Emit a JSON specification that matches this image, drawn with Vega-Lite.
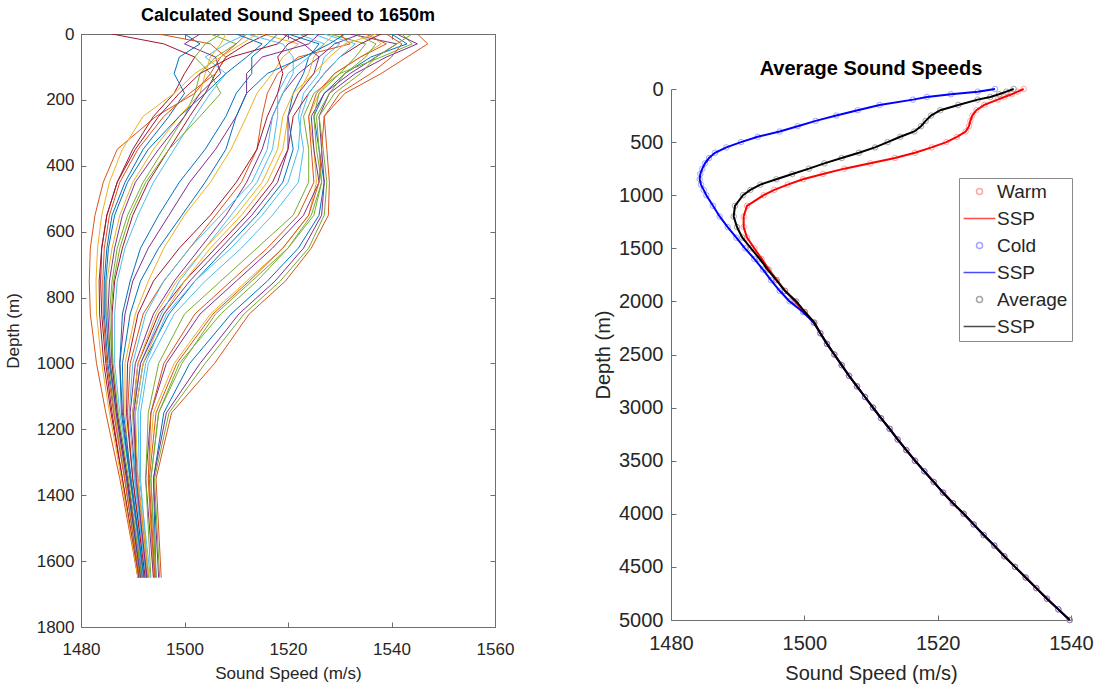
{
  "$schema": "https://vega.github.io/schema/vega-lite/v6.json",
  "padding": {"left": 3, "top": 6, "right": 5, "bottom": 5},
  "background": "white",
  "config": {
    "font": "Liberation Sans",
    "axis": {"labelColor": "#262626", "titleColor": "#262626", "domainColor": "#6e6e6e", "tickColor": "#6e6e6e", "grid": false, "titleFontWeight": "normal", "labelFlush": false, "format": "d"},
    "title": {"color": "#000000", "fontWeight": "bold"}
  },
  "datasets": {
    "prof": [
      {"p":1,"d":0,"v":1540},{"p":1,"d":30,"v":1543},{"p":1,"d":70,"v":1536},{"p":1,"d":120,"v":1531},{"p":1,"d":180,"v":1527},{"p":1,"d":250,"v":1525},{"p":1,"d":350,"v":1526},{"p":1,"d":450,"v":1527},{"p":1,"d":550,"v":1526},{"p":1,"d":650,"v":1522},{"p":1,"d":750,"v":1516},{"p":1,"d":850,"v":1509},{"p":1,"d":1000,"v":1501},{"p":1,"d":1150,"v":1496},{"p":1,"d":1350,"v":1494},{"p":1,"d":1650,"v":1494.5},
      {"p":2,"d":0,"v":1545},{"p":2,"d":30,"v":1547},{"p":2,"d":70,"v":1543},{"p":2,"d":120,"v":1538},{"p":2,"d":180,"v":1531},{"p":2,"d":250,"v":1527},{"p":2,"d":350,"v":1527.5},{"p":2,"d":450,"v":1528},{"p":2,"d":550,"v":1527.8},{"p":2,"d":650,"v":1524.5},{"p":2,"d":750,"v":1519.5},{"p":2,"d":850,"v":1512.5},{"p":2,"d":1000,"v":1505.8},{"p":2,"d":1150,"v":1497.5},{"p":2,"d":1350,"v":1494.5},{"p":2,"d":1650,"v":1495.5},
      {"p":3,"d":0,"v":1536},{"p":3,"d":30,"v":1538},{"p":3,"d":70,"v":1534},{"p":3,"d":120,"v":1529},{"p":3,"d":180,"v":1526},{"p":3,"d":250,"v":1524},{"p":3,"d":350,"v":1525},{"p":3,"d":450,"v":1525.5},{"p":3,"d":550,"v":1524},{"p":3,"d":650,"v":1519},{"p":3,"d":750,"v":1512},{"p":3,"d":850,"v":1505},{"p":3,"d":1000,"v":1498},{"p":3,"d":1150,"v":1494},{"p":3,"d":1350,"v":1493},{"p":3,"d":1650,"v":1494},
      {"p":4,"d":0,"v":1532},{"p":4,"d":30,"v":1541},{"p":4,"d":70,"v":1537},{"p":4,"d":120,"v":1532},{"p":4,"d":180,"v":1527},{"p":4,"d":250,"v":1524.5},{"p":4,"d":350,"v":1525},{"p":4,"d":450,"v":1526},{"p":4,"d":550,"v":1523},{"p":4,"d":650,"v":1517},{"p":4,"d":750,"v":1510},{"p":4,"d":850,"v":1503},{"p":4,"d":1000,"v":1496.5},{"p":4,"d":1150,"v":1493.5},{"p":4,"d":1350,"v":1492.5},{"p":4,"d":1650,"v":1494},
      {"p":5,"d":0,"v":1528},{"p":5,"d":30,"v":1535},{"p":5,"d":70,"v":1533},{"p":5,"d":120,"v":1530},{"p":5,"d":180,"v":1525},{"p":5,"d":250,"v":1523},{"p":5,"d":350,"v":1524},{"p":5,"d":450,"v":1524},{"p":5,"d":550,"v":1521},{"p":5,"d":650,"v":1514},{"p":5,"d":750,"v":1507},{"p":5,"d":850,"v":1500},{"p":5,"d":1000,"v":1495},{"p":5,"d":1150,"v":1493},{"p":5,"d":1350,"v":1492.5},{"p":5,"d":1650,"v":1493.5},
      {"p":6,"d":0,"v":1525},{"p":6,"d":30,"v":1530},{"p":6,"d":70,"v":1527},{"p":6,"d":120,"v":1526},{"p":6,"d":180,"v":1523},{"p":6,"d":250,"v":1522},{"p":6,"d":350,"v":1523},{"p":6,"d":450,"v":1522},{"p":6,"d":550,"v":1517},{"p":6,"d":650,"v":1511},{"p":6,"d":750,"v":1504},{"p":6,"d":850,"v":1498},{"p":6,"d":1000,"v":1493},{"p":6,"d":1150,"v":1491.5},{"p":6,"d":1350,"v":1491.5},{"p":6,"d":1650,"v":1493},
      {"p":7,"d":0,"v":1538},{"p":7,"d":30,"v":1534},{"p":7,"d":70,"v":1530},{"p":7,"d":120,"v":1527},{"p":7,"d":180,"v":1524},{"p":7,"d":250,"v":1521},{"p":7,"d":350,"v":1520},{"p":7,"d":450,"v":1517},{"p":7,"d":550,"v":1512},{"p":7,"d":650,"v":1506},{"p":7,"d":750,"v":1500},{"p":7,"d":850,"v":1495},{"p":7,"d":1000,"v":1491},{"p":7,"d":1150,"v":1490},{"p":7,"d":1350,"v":1491},{"p":7,"d":1650,"v":1493},
      {"p":8,"d":0,"v":1520},{"p":8,"d":30,"v":1526},{"p":8,"d":70,"v":1524},{"p":8,"d":120,"v":1523},{"p":8,"d":180,"v":1521},{"p":8,"d":250,"v":1520},{"p":8,"d":350,"v":1521},{"p":8,"d":450,"v":1519},{"p":8,"d":550,"v":1514},{"p":8,"d":650,"v":1508},{"p":8,"d":750,"v":1502},{"p":8,"d":850,"v":1497},{"p":8,"d":1000,"v":1492},{"p":8,"d":1150,"v":1490.5},{"p":8,"d":1350,"v":1490.5},{"p":8,"d":1650,"v":1492.5},
      {"p":9,"d":0,"v":1530},{"p":9,"d":30,"v":1532},{"p":9,"d":70,"v":1522},{"p":9,"d":120,"v":1518},{"p":9,"d":180,"v":1516},{"p":9,"d":250,"v":1515},{"p":9,"d":350,"v":1514},{"p":9,"d":450,"v":1511},{"p":9,"d":550,"v":1506},{"p":9,"d":650,"v":1501},{"p":9,"d":750,"v":1496},{"p":9,"d":850,"v":1492},{"p":9,"d":1000,"v":1489.5},{"p":9,"d":1150,"v":1489},{"p":9,"d":1350,"v":1490},{"p":9,"d":1650,"v":1492.5},
      {"p":10,"d":0,"v":1515},{"p":10,"d":30,"v":1522},{"p":10,"d":70,"v":1519},{"p":10,"d":120,"v":1517},{"p":10,"d":180,"v":1514},{"p":10,"d":250,"v":1512},{"p":10,"d":350,"v":1509},{"p":10,"d":450,"v":1505},{"p":10,"d":550,"v":1500},{"p":10,"d":650,"v":1496},{"p":10,"d":750,"v":1493},{"p":10,"d":850,"v":1490.5},{"p":10,"d":1000,"v":1488.5},{"p":10,"d":1150,"v":1488.5},{"p":10,"d":1350,"v":1489.5},{"p":10,"d":1650,"v":1492},
      {"p":11,"d":0,"v":1526},{"p":11,"d":30,"v":1524},{"p":11,"d":70,"v":1515},{"p":11,"d":120,"v":1512},{"p":11,"d":180,"v":1512},{"p":11,"d":250,"v":1510},{"p":11,"d":350,"v":1506},{"p":11,"d":450,"v":1501},{"p":11,"d":550,"v":1497},{"p":11,"d":650,"v":1493},{"p":11,"d":750,"v":1490},{"p":11,"d":850,"v":1488.5},{"p":11,"d":1000,"v":1487.5},{"p":11,"d":1150,"v":1488},{"p":11,"d":1350,"v":1489.5},{"p":11,"d":1650,"v":1492},
      {"p":12,"d":0,"v":1505},{"p":12,"d":30,"v":1510},{"p":12,"d":70,"v":1506},{"p":12,"d":120,"v":1503},{"p":12,"d":180,"v":1502},{"p":12,"d":250,"v":1500},{"p":12,"d":350,"v":1496},{"p":12,"d":450,"v":1492},{"p":12,"d":550,"v":1489},{"p":12,"d":650,"v":1487},{"p":12,"d":750,"v":1486},{"p":12,"d":850,"v":1485.5},{"p":12,"d":1000,"v":1486},{"p":12,"d":1150,"v":1487},{"p":12,"d":1350,"v":1489},{"p":12,"d":1650,"v":1491.5},
      {"p":13,"d":0,"v":1512},{"p":13,"d":30,"v":1508},{"p":13,"d":70,"v":1504},{"p":13,"d":120,"v":1508},{"p":13,"d":180,"v":1505},{"p":13,"d":250,"v":1502},{"p":13,"d":350,"v":1498},{"p":13,"d":450,"v":1494},{"p":13,"d":550,"v":1491},{"p":13,"d":650,"v":1488.5},{"p":13,"d":750,"v":1487},{"p":13,"d":850,"v":1486.5},{"p":13,"d":1000,"v":1486.5},{"p":13,"d":1150,"v":1487.5},{"p":13,"d":1350,"v":1489.5},{"p":13,"d":1650,"v":1492},
      {"p":14,"d":0,"v":1486},{"p":14,"d":30,"v":1496},{"p":14,"d":70,"v":1502},{"p":14,"d":120,"v":1500},{"p":14,"d":180,"v":1498},{"p":14,"d":250,"v":1494},{"p":14,"d":350,"v":1490},{"p":14,"d":450,"v":1487},{"p":14,"d":550,"v":1485},{"p":14,"d":650,"v":1484},{"p":14,"d":750,"v":1483.8},{"p":14,"d":850,"v":1484},{"p":14,"d":1000,"v":1484.8},{"p":14,"d":1150,"v":1486},{"p":14,"d":1350,"v":1488},{"p":14,"d":1650,"v":1491},
      {"p":15,"d":0,"v":1500},{"p":15,"d":30,"v":1503},{"p":15,"d":70,"v":1499},{"p":15,"d":120,"v":1498},{"p":15,"d":180,"v":1500},{"p":15,"d":250,"v":1497},{"p":15,"d":350,"v":1492},{"p":15,"d":450,"v":1488.5},{"p":15,"d":550,"v":1486},{"p":15,"d":650,"v":1485},{"p":15,"d":750,"v":1484.5},{"p":15,"d":850,"v":1484.5},{"p":15,"d":1000,"v":1485.2},{"p":15,"d":1150,"v":1486.5},{"p":15,"d":1350,"v":1488.5},{"p":15,"d":1650,"v":1491.2},
      {"p":16,"d":0,"v":1512},{"p":16,"d":30,"v":1510},{"p":16,"d":70,"v":1507},{"p":16,"d":120,"v":1505},{"p":16,"d":180,"v":1502},{"p":16,"d":250,"v":1494.5},{"p":16,"d":350,"v":1487},{"p":16,"d":450,"v":1484.3},{"p":16,"d":550,"v":1482.7},{"p":16,"d":650,"v":1481.8},{"p":16,"d":750,"v":1481.6},{"p":16,"d":850,"v":1481.8},{"p":16,"d":1000,"v":1483},{"p":16,"d":1150,"v":1484.8},{"p":16,"d":1350,"v":1487.5},{"p":16,"d":1650,"v":1491},
      {"p":17,"d":0,"v":1508},{"p":17,"d":30,"v":1507},{"p":17,"d":70,"v":1505},{"p":17,"d":120,"v":1504},{"p":17,"d":180,"v":1503},{"p":17,"d":250,"v":1499},{"p":17,"d":350,"v":1494},{"p":17,"d":450,"v":1490},{"p":17,"d":550,"v":1487.5},{"p":17,"d":650,"v":1486},{"p":17,"d":750,"v":1485},{"p":17,"d":850,"v":1485},{"p":17,"d":1000,"v":1485.5},{"p":17,"d":1150,"v":1486.5},{"p":17,"d":1350,"v":1488.5},{"p":17,"d":1650,"v":1491.5},
      {"p":18,"d":0,"v":1534},{"p":18,"d":30,"v":1529},{"p":18,"d":70,"v":1526},{"p":18,"d":120,"v":1522},{"p":18,"d":180,"v":1519},{"p":18,"d":250,"v":1517},{"p":18,"d":350,"v":1515},{"p":18,"d":450,"v":1512},{"p":18,"d":550,"v":1508},{"p":18,"d":650,"v":1503},{"p":18,"d":750,"v":1498},{"p":18,"d":850,"v":1494},{"p":18,"d":1000,"v":1490.5},{"p":18,"d":1150,"v":1489.5},{"p":18,"d":1350,"v":1490.5},{"p":18,"d":1650,"v":1492.8},
      {"p":19,"d":0,"v":1542},{"p":19,"d":30,"v":1544},{"p":19,"d":70,"v":1538},{"p":19,"d":120,"v":1530},{"p":19,"d":180,"v":1526},{"p":19,"d":250,"v":1525},{"p":19,"d":350,"v":1525.5},{"p":19,"d":450,"v":1526.5},{"p":19,"d":550,"v":1525},{"p":19,"d":650,"v":1520},{"p":19,"d":750,"v":1514},{"p":19,"d":850,"v":1507},{"p":19,"d":1000,"v":1499},{"p":19,"d":1150,"v":1495},{"p":19,"d":1350,"v":1493.5},{"p":19,"d":1650,"v":1494.5},
      {"p":20,"d":0,"v":1522},{"p":20,"d":30,"v":1527},{"p":20,"d":70,"v":1524},{"p":20,"d":120,"v":1520},{"p":20,"d":180,"v":1518},{"p":20,"d":250,"v":1518},{"p":20,"d":350,"v":1517},{"p":20,"d":450,"v":1514},{"p":20,"d":550,"v":1509},{"p":20,"d":650,"v":1504},{"p":20,"d":750,"v":1499},{"p":20,"d":850,"v":1495.5},{"p":20,"d":1000,"v":1491.5},{"p":20,"d":1150,"v":1490},{"p":20,"d":1350,"v":1490.5},{"p":20,"d":1650,"v":1492.5},
      {"p":21,"d":0,"v":1516},{"p":21,"d":30,"v":1512},{"p":21,"d":70,"v":1508},{"p":21,"d":120,"v":1506},{"p":21,"d":180,"v":1504},{"p":21,"d":250,"v":1501},{"p":21,"d":350,"v":1497},{"p":21,"d":450,"v":1493},{"p":21,"d":550,"v":1490},{"p":21,"d":650,"v":1488},{"p":21,"d":750,"v":1486.5},{"p":21,"d":850,"v":1486},{"p":21,"d":1000,"v":1486},{"p":21,"d":1150,"v":1487},{"p":21,"d":1350,"v":1489},{"p":21,"d":1650,"v":1491.8},
      {"p":22,"d":0,"v":1518},{"p":22,"d":30,"v":1516},{"p":22,"d":70,"v":1513},{"p":22,"d":120,"v":1513},{"p":22,"d":180,"v":1510},{"p":22,"d":250,"v":1508},{"p":22,"d":350,"v":1504},{"p":22,"d":450,"v":1499},{"p":22,"d":550,"v":1495},{"p":22,"d":650,"v":1491.5},{"p":22,"d":750,"v":1489.5},{"p":22,"d":850,"v":1488},{"p":22,"d":1000,"v":1487.5},{"p":22,"d":1150,"v":1487.8},{"p":22,"d":1350,"v":1489.5},{"p":22,"d":1650,"v":1492.2},
      {"p":23,"d":0,"v":1535},{"p":23,"d":30,"v":1539},{"p":23,"d":70,"v":1534},{"p":23,"d":120,"v":1529},{"p":23,"d":180,"v":1525.5},{"p":23,"d":250,"v":1524},{"p":23,"d":350,"v":1524.5},{"p":23,"d":450,"v":1525},{"p":23,"d":550,"v":1522},{"p":23,"d":650,"v":1516},{"p":23,"d":750,"v":1509},{"p":23,"d":850,"v":1502},{"p":23,"d":1000,"v":1496},{"p":23,"d":1150,"v":1493.5},{"p":23,"d":1350,"v":1493},{"p":23,"d":1650,"v":1494.2},
      {"p":24,"d":0,"v":1529},{"p":24,"d":30,"v":1527},{"p":24,"d":70,"v":1525},{"p":24,"d":120,"v":1524},{"p":24,"d":180,"v":1522},{"p":24,"d":250,"v":1520},{"p":24,"d":350,"v":1519},{"p":24,"d":450,"v":1516},{"p":24,"d":550,"v":1511},{"p":24,"d":650,"v":1505},{"p":24,"d":750,"v":1500},{"p":24,"d":850,"v":1496},{"p":24,"d":1000,"v":1492},{"p":24,"d":1150,"v":1490.5},{"p":24,"d":1350,"v":1491},{"p":24,"d":1650,"v":1493.2},
      {"p":25,"d":0,"v":1541},{"p":25,"d":30,"v":1545},{"p":25,"d":70,"v":1539},{"p":25,"d":120,"v":1533},{"p":25,"d":180,"v":1528},{"p":25,"d":250,"v":1526},{"p":25,"d":350,"v":1526.5},{"p":25,"d":450,"v":1527},{"p":25,"d":550,"v":1526.5},{"p":25,"d":650,"v":1523},{"p":25,"d":750,"v":1517.5},{"p":25,"d":850,"v":1510.5},{"p":25,"d":1000,"v":1503},{"p":25,"d":1150,"v":1496.5},{"p":25,"d":1350,"v":1494},{"p":25,"d":1650,"v":1495},
      {"p":26,"d":0,"v":1533},{"p":26,"d":30,"v":1537},{"p":26,"d":70,"v":1535},{"p":26,"d":120,"v":1531},{"p":26,"d":180,"v":1528},{"p":26,"d":250,"v":1525.5},{"p":26,"d":350,"v":1526},{"p":26,"d":450,"v":1526.5},{"p":26,"d":550,"v":1524.5},{"p":26,"d":650,"v":1520},{"p":26,"d":750,"v":1513},{"p":26,"d":850,"v":1506},{"p":26,"d":1000,"v":1499.5},{"p":26,"d":1150,"v":1495},{"p":26,"d":1350,"v":1493.5},{"p":26,"d":1650,"v":1494.5},
      {"p":27,"d":0,"v":1527},{"p":27,"d":30,"v":1533},{"p":27,"d":70,"v":1530},{"p":27,"d":120,"v":1527},{"p":27,"d":180,"v":1524},{"p":27,"d":250,"v":1522.5},{"p":27,"d":350,"v":1522},{"p":27,"d":450,"v":1520},{"p":27,"d":550,"v":1515},{"p":27,"d":650,"v":1509},{"p":27,"d":750,"v":1502},{"p":27,"d":850,"v":1496.5},{"p":27,"d":1000,"v":1492.5},{"p":27,"d":1150,"v":1491},{"p":27,"d":1350,"v":1491.3},{"p":27,"d":1650,"v":1493.4},
      {"p":28,"d":0,"v":1524},{"p":28,"d":30,"v":1520},{"p":28,"d":70,"v":1518},{"p":28,"d":120,"v":1519},{"p":28,"d":180,"v":1518},{"p":28,"d":250,"v":1516},{"p":28,"d":350,"v":1514},{"p":28,"d":450,"v":1510},{"p":28,"d":550,"v":1505},{"p":28,"d":650,"v":1499},{"p":28,"d":750,"v":1494},{"p":28,"d":850,"v":1491},{"p":28,"d":1000,"v":1489},{"p":28,"d":1150,"v":1488.8},{"p":28,"d":1350,"v":1490},{"p":28,"d":1650,"v":1492.4},
      {"p":29,"d":0,"v":1510},{"p":29,"d":30,"v":1515},{"p":29,"d":70,"v":1512},{"p":29,"d":120,"v":1508},{"p":29,"d":180,"v":1504},{"p":29,"d":250,"v":1499},{"p":29,"d":350,"v":1493},{"p":29,"d":450,"v":1489},{"p":29,"d":550,"v":1486.5},{"p":29,"d":650,"v":1485.3},{"p":29,"d":750,"v":1484.8},{"p":29,"d":850,"v":1484.8},{"p":29,"d":1000,"v":1485.5},{"p":29,"d":1150,"v":1486.8},{"p":29,"d":1350,"v":1488.8},{"p":29,"d":1650,"v":1491.5},
      {"p":30,"d":0,"v":1495},{"p":30,"d":30,"v":1505},{"p":30,"d":70,"v":1508},{"p":30,"d":120,"v":1506},{"p":30,"d":180,"v":1501},{"p":30,"d":250,"v":1496},{"p":30,"d":350,"v":1491},{"p":30,"d":450,"v":1487.5},{"p":30,"d":550,"v":1485.5},{"p":30,"d":650,"v":1484.5},{"p":30,"d":750,"v":1484.2},{"p":30,"d":850,"v":1484.3},{"p":30,"d":1000,"v":1485},{"p":30,"d":1150,"v":1486.3},{"p":30,"d":1350,"v":1488.4},{"p":30,"d":1650,"v":1491.3},
      {"p":31,"d":0,"v":1537},{"p":31,"d":30,"v":1531},{"p":31,"d":70,"v":1528},{"p":31,"d":120,"v":1525},{"p":31,"d":180,"v":1521},{"p":31,"d":250,"v":1519},{"p":31,"d":350,"v":1518},{"p":31,"d":450,"v":1515},{"p":31,"d":550,"v":1510},{"p":31,"d":650,"v":1504},{"p":31,"d":750,"v":1498.5},{"p":31,"d":850,"v":1494.5},{"p":31,"d":1000,"v":1491},{"p":31,"d":1150,"v":1490},{"p":31,"d":1350,"v":1490.8},{"p":31,"d":1650,"v":1493},
      {"p":32,"d":0,"v":1503},{"p":32,"d":30,"v":1500},{"p":32,"d":70,"v":1506},{"p":32,"d":120,"v":1507},{"p":32,"d":180,"v":1503},{"p":32,"d":250,"v":1500},{"p":32,"d":350,"v":1495},{"p":32,"d":450,"v":1490.5},{"p":32,"d":550,"v":1488},{"p":32,"d":650,"v":1486.5},{"p":32,"d":750,"v":1485.5},{"p":32,"d":850,"v":1485.2},{"p":32,"d":1000,"v":1485.7},{"p":32,"d":1150,"v":1486.8},{"p":32,"d":1350,"v":1488.8},{"p":32,"d":1650,"v":1491.6},
      {"p":33,"d":0,"v":1544},{"p":33,"d":30,"v":1541},{"p":33,"d":70,"v":1537},{"p":33,"d":120,"v":1534},{"p":33,"d":180,"v":1529},{"p":33,"d":250,"v":1526},{"p":33,"d":350,"v":1526.8},{"p":33,"d":450,"v":1527.5},{"p":33,"d":550,"v":1527},{"p":33,"d":650,"v":1524},{"p":33,"d":750,"v":1518.5},{"p":33,"d":850,"v":1511.5},{"p":33,"d":1000,"v":1504},{"p":33,"d":1150,"v":1497},{"p":33,"d":1350,"v":1494.2},{"p":33,"d":1650,"v":1495.2},
      {"p":34,"d":0,"v":1512},{"p":34,"d":30,"v":1519},{"p":34,"d":70,"v":1521},{"p":34,"d":120,"v":1521},{"p":34,"d":180,"v":1519},{"p":34,"d":250,"v":1517},{"p":34,"d":350,"v":1516},{"p":34,"d":450,"v":1513},{"p":34,"d":550,"v":1507},{"p":34,"d":650,"v":1501},{"p":34,"d":750,"v":1496},{"p":34,"d":850,"v":1492.5},{"p":34,"d":1000,"v":1490},{"p":34,"d":1150,"v":1489.3},{"p":34,"d":1350,"v":1490.3},{"p":34,"d":1650,"v":1492.6},
      {"p":35,"d":0,"v":1520},{"p":35,"d":30,"v":1518},{"p":35,"d":70,"v":1509},{"p":35,"d":120,"v":1503},{"p":35,"d":180,"v":1499},{"p":35,"d":250,"v":1495},{"p":35,"d":350,"v":1490.5},{"p":35,"d":450,"v":1487},{"p":35,"d":550,"v":1485},{"p":35,"d":650,"v":1484},{"p":35,"d":750,"v":1483.5},{"p":35,"d":850,"v":1483.6},{"p":35,"d":1000,"v":1484.4},{"p":35,"d":1150,"v":1485.8},{"p":35,"d":1350,"v":1488},{"p":35,"d":1650,"v":1491.1},
      {"p":36,"d":0,"v":1531},{"p":36,"d":30,"v":1528},{"p":36,"d":70,"v":1523},{"p":36,"d":120,"v":1516},{"p":36,"d":180,"v":1512},{"p":36,"d":250,"v":1510},{"p":36,"d":350,"v":1508},{"p":36,"d":450,"v":1504},{"p":36,"d":550,"v":1499.5},{"p":36,"d":650,"v":1495},{"p":36,"d":750,"v":1491.5},{"p":36,"d":850,"v":1489.5},{"p":36,"d":1000,"v":1488},{"p":36,"d":1150,"v":1488.2},{"p":36,"d":1350,"v":1489.7},{"p":36,"d":1650,"v":1492.2},
      {"p":37,"d":0,"v":1539},{"p":37,"d":30,"v":1542},{"p":37,"d":70,"v":1540},{"p":37,"d":120,"v":1536},{"p":37,"d":180,"v":1530},{"p":37,"d":250,"v":1527},{"p":37,"d":350,"v":1526.5},{"p":37,"d":450,"v":1526},{"p":37,"d":550,"v":1524},{"p":37,"d":650,"v":1519},{"p":37,"d":750,"v":1512.5},{"p":37,"d":850,"v":1505.5},{"p":37,"d":1000,"v":1498.5},{"p":37,"d":1150,"v":1494.5},{"p":37,"d":1350,"v":1493.2},{"p":37,"d":1650,"v":1494.3},
      {"p":38,"d":0,"v":1514},{"p":38,"d":30,"v":1511},{"p":38,"d":70,"v":1507},{"p":38,"d":120,"v":1502},{"p":38,"d":180,"v":1498},{"p":38,"d":250,"v":1492},{"p":38,"d":350,"v":1488},{"p":38,"d":450,"v":1485.5},{"p":38,"d":550,"v":1484},{"p":38,"d":650,"v":1483.2},{"p":38,"d":750,"v":1482.9},{"p":38,"d":850,"v":1483},{"p":38,"d":1000,"v":1484},{"p":38,"d":1150,"v":1485.5},{"p":38,"d":1350,"v":1487.8},{"p":38,"d":1650,"v":1491},
      {"p":39,"d":0,"v":1519},{"p":39,"d":30,"v":1523},{"p":39,"d":70,"v":1526},{"p":39,"d":120,"v":1525},{"p":39,"d":180,"v":1522},{"p":39,"d":250,"v":1520},{"p":39,"d":350,"v":1520},{"p":39,"d":450,"v":1518},{"p":39,"d":550,"v":1513},{"p":39,"d":650,"v":1507},{"p":39,"d":750,"v":1501},{"p":39,"d":850,"v":1496},{"p":39,"d":1000,"v":1491.5},{"p":39,"d":1150,"v":1490.2},{"p":39,"d":1350,"v":1490.7},{"p":39,"d":1650,"v":1492.7},
      {"p":40,"d":0,"v":1507},{"p":40,"d":30,"v":1504},{"p":40,"d":70,"v":1502},{"p":40,"d":120,"v":1505},{"p":40,"d":180,"v":1507},{"p":40,"d":250,"v":1503},{"p":40,"d":350,"v":1497},{"p":40,"d":450,"v":1492.5},{"p":40,"d":550,"v":1489.5},{"p":40,"d":650,"v":1487.5},{"p":40,"d":750,"v":1486.3},{"p":40,"d":850,"v":1485.8},{"p":40,"d":1000,"v":1486.2},{"p":40,"d":1150,"v":1487.2},{"p":40,"d":1350,"v":1489.2},{"p":40,"d":1650,"v":1491.7}
    ],
    "avg": [
      {"s":"Warm","d":0,"v":1532.9},{"s":"Warm","d":25,"v":1532},{"s":"Warm","d":50,"v":1531.1},{"s":"Warm","d":75,"v":1530},{"s":"Warm","d":100,"v":1529},{"s":"Warm","d":150,"v":1527},{"s":"Warm","d":200,"v":1525.8},{"s":"Warm","d":250,"v":1525.2},{"s":"Warm","d":300,"v":1524.9},{"s":"Warm","d":350,"v":1524.7},{"s":"Warm","d":400,"v":1524.2},{"s":"Warm","d":450,"v":1522.9},{"s":"Warm","d":500,"v":1521.3},{"s":"Warm","d":550,"v":1519.1},{"s":"Warm","d":600,"v":1516.6},{"s":"Warm","d":650,"v":1513.6},{"s":"Warm","d":700,"v":1509.9},{"s":"Warm","d":750,"v":1506},{"s":"Warm","d":800,"v":1502.8},{"s":"Warm","d":850,"v":1499.8},{"s":"Warm","d":900,"v":1497.5},{"s":"Warm","d":950,"v":1495.5},{"s":"Warm","d":1000,"v":1493.9},{"s":"Warm","d":1100,"v":1491.4},{"s":"Warm","d":1200,"v":1490.9},{"s":"Warm","d":1300,"v":1490.9},{"s":"Warm","d":1400,"v":1491.4},{"s":"Warm","d":1500,"v":1492.5},{"s":"Warm","d":1600,"v":1493.6},{"s":"Warm","d":1700,"v":1494.7},{"s":"Warm","d":1800,"v":1495.9},{"s":"Warm","d":1900,"v":1497.1},{"s":"Warm","d":2000,"v":1498.6},{"s":"Warm","d":2100,"v":1500},{"s":"Warm","d":2200,"v":1501.5},
      {"s":"Warm","d":2300,"v":1502.4},{"s":"Warm","d":2400,"v":1503.4},{"s":"Warm","d":2500,"v":1504.5},{"s":"Warm","d":2600,"v":1505.6},{"s":"Warm","d":2700,"v":1506.7},{"s":"Warm","d":2800,"v":1507.9},{"s":"Warm","d":2900,"v":1509.1},{"s":"Warm","d":3000,"v":1510.3},{"s":"Warm","d":3100,"v":1511.5},{"s":"Warm","d":3200,"v":1512.8},{"s":"Warm","d":3300,"v":1514},{"s":"Warm","d":3400,"v":1515.3},{"s":"Warm","d":3500,"v":1516.6},{"s":"Warm","d":3600,"v":1518},{"s":"Warm","d":3700,"v":1519.4},{"s":"Warm","d":3800,"v":1520.8},{"s":"Warm","d":3900,"v":1522.3},{"s":"Warm","d":4000,"v":1523.9},{"s":"Warm","d":4100,"v":1525.4},{"s":"Warm","d":4200,"v":1526.9},{"s":"Warm","d":4300,"v":1528.5},{"s":"Warm","d":4400,"v":1530},{"s":"Warm","d":4500,"v":1531.6},{"s":"Warm","d":4600,"v":1533.2},{"s":"Warm","d":4700,"v":1534.8},{"s":"Warm","d":4800,"v":1536.4},{"s":"Warm","d":4900,"v":1538.1},{"s":"Warm","d":5000,"v":1539.8},
      {"s":"Cold","d":0,"v":1528.6},{"s":"Cold","d":25,"v":1526},{"s":"Cold","d":50,"v":1522},{"s":"Cold","d":75,"v":1518.4},{"s":"Cold","d":100,"v":1516.3},{"s":"Cold","d":150,"v":1511.3},{"s":"Cold","d":200,"v":1508},{"s":"Cold","d":250,"v":1504.8},{"s":"Cold","d":300,"v":1501.7},{"s":"Cold","d":350,"v":1499},{"s":"Cold","d":400,"v":1496.3},{"s":"Cold","d":450,"v":1493},{"s":"Cold","d":500,"v":1490.5},{"s":"Cold","d":550,"v":1488.3},{"s":"Cold","d":600,"v":1486.6},{"s":"Cold","d":650,"v":1485.7},{"s":"Cold","d":700,"v":1485.1},{"s":"Cold","d":750,"v":1484.7},{"s":"Cold","d":800,"v":1484.4},{"s":"Cold","d":850,"v":1484.3},{"s":"Cold","d":900,"v":1484.5},{"s":"Cold","d":950,"v":1484.9},{"s":"Cold","d":1000,"v":1485.3},{"s":"Cold","d":1100,"v":1486.3},{"s":"Cold","d":1200,"v":1487.3},{"s":"Cold","d":1300,"v":1488.5},{"s":"Cold","d":1400,"v":1489.8},{"s":"Cold","d":1500,"v":1491.1},{"s":"Cold","d":1600,"v":1492.5},{"s":"Cold","d":1700,"v":1493.8},{"s":"Cold","d":1800,"v":1495},{"s":"Cold","d":1900,"v":1496.3},{"s":"Cold","d":2000,"v":1497.8},{"s":"Cold","d":2100,"v":1499.8},{"s":"Cold","d":2200,"v":1501.4},
      {"s":"Cold","d":2300,"v":1502.4},{"s":"Cold","d":2400,"v":1503.4},{"s":"Cold","d":2500,"v":1504.5},{"s":"Cold","d":2600,"v":1505.6},{"s":"Cold","d":2700,"v":1506.7},{"s":"Cold","d":2800,"v":1507.9},{"s":"Cold","d":2900,"v":1509.1},{"s":"Cold","d":3000,"v":1510.3},{"s":"Cold","d":3100,"v":1511.5},{"s":"Cold","d":3200,"v":1512.8},{"s":"Cold","d":3300,"v":1514},{"s":"Cold","d":3400,"v":1515.3},{"s":"Cold","d":3500,"v":1516.6},{"s":"Cold","d":3600,"v":1518},{"s":"Cold","d":3700,"v":1519.4},{"s":"Cold","d":3800,"v":1520.8},{"s":"Cold","d":3900,"v":1522.3},{"s":"Cold","d":4000,"v":1523.9},{"s":"Cold","d":4100,"v":1525.4},{"s":"Cold","d":4200,"v":1526.9},{"s":"Cold","d":4300,"v":1528.5},{"s":"Cold","d":4400,"v":1530},{"s":"Cold","d":4500,"v":1531.6},{"s":"Cold","d":4600,"v":1533.2},{"s":"Cold","d":4700,"v":1534.8},{"s":"Cold","d":4800,"v":1536.4},{"s":"Cold","d":4900,"v":1538.1},{"s":"Cold","d":5000,"v":1539.8},
      {"s":"Average","d":0,"v":1531.4},{"s":"Average","d":25,"v":1530.3},{"s":"Average","d":50,"v":1529.2},{"s":"Average","d":75,"v":1527.9},{"s":"Average","d":100,"v":1526},{"s":"Average","d":150,"v":1523.1},{"s":"Average","d":200,"v":1520.4},{"s":"Average","d":250,"v":1519},{"s":"Average","d":300,"v":1518.2},{"s":"Average","d":350,"v":1517.5},{"s":"Average","d":400,"v":1516.5},{"s":"Average","d":450,"v":1514.4},{"s":"Average","d":500,"v":1512.5},{"s":"Average","d":550,"v":1510.6},{"s":"Average","d":600,"v":1508.2},{"s":"Average","d":650,"v":1505.6},{"s":"Average","d":700,"v":1503},{"s":"Average","d":750,"v":1500.7},{"s":"Average","d":800,"v":1498.2},{"s":"Average","d":850,"v":1495.8},{"s":"Average","d":900,"v":1493.4},{"s":"Average","d":950,"v":1491.9},{"s":"Average","d":1000,"v":1490.8},{"s":"Average","d":1100,"v":1489.6},{"s":"Average","d":1200,"v":1489.4},{"s":"Average","d":1300,"v":1489.9},{"s":"Average","d":1400,"v":1490.7},{"s":"Average","d":1500,"v":1492},{"s":"Average","d":1600,"v":1493.3},{"s":"Average","d":1700,"v":1494.5},{"s":"Average","d":1800,"v":1495.8},{"s":"Average","d":1900,"v":1497.1},{"s":"Average","d":2000,"v":1498.8},{"s":"Average","d":2100,"v":1500.1},{"s":"Average","d":2200,"v":1501.5},
      {"s":"Average","d":2300,"v":1502.4},{"s":"Average","d":2400,"v":1503.4},{"s":"Average","d":2500,"v":1504.5},{"s":"Average","d":2600,"v":1505.6},{"s":"Average","d":2700,"v":1506.7},{"s":"Average","d":2800,"v":1507.9},{"s":"Average","d":2900,"v":1509.1},{"s":"Average","d":3000,"v":1510.3},{"s":"Average","d":3100,"v":1511.5},{"s":"Average","d":3200,"v":1512.8},{"s":"Average","d":3300,"v":1514},{"s":"Average","d":3400,"v":1515.3},{"s":"Average","d":3500,"v":1516.6},{"s":"Average","d":3600,"v":1518},{"s":"Average","d":3700,"v":1519.4},{"s":"Average","d":3800,"v":1520.8},{"s":"Average","d":3900,"v":1522.3},{"s":"Average","d":4000,"v":1523.9},{"s":"Average","d":4100,"v":1525.4},{"s":"Average","d":4200,"v":1526.9},{"s":"Average","d":4300,"v":1528.5},{"s":"Average","d":4400,"v":1530},{"s":"Average","d":4500,"v":1531.6},{"s":"Average","d":4600,"v":1533.2},{"s":"Average","d":4700,"v":1534.8},{"s":"Average","d":4800,"v":1536.4},{"s":"Average","d":4900,"v":1538.1},{"s":"Average","d":5000,"v":1539.8}
    ]
  },
  "hconcat": [
    {
      "width": 414,
      "height": 593,
      "title": {"text": "Calculated Sound Speed to 1650m", "fontSize": 18, "offset": 0},
      "data": {"name": "prof"},
      "view": {"stroke": "#6e6e6e"},
      "layer": [
        {
          "mark": {"type": "line", "strokeWidth": 1, "clip": true},
          "encoding": {
            "x": {"field": "v", "type": "quantitative", "scale": {"domain": [1480, 1560], "nice": false, "zero": false},
                  "axis": {"values": [1480, 1500, 1520, 1540, 1560], "title": "Sound Speed (m/s)", "labelFontSize": 17, "titleFontSize": 17, "tickSize": -5, "labelPadding": 19, "titlePadding": 8, "domain": false}},
            "y": {"field": "d", "type": "quantitative", "scale": {"domain": [0, 1800], "reverse": true, "nice": false, "zero": false},
                  "axis": {"values": [0, 200, 400, 600, 800, 1000, 1200, 1400, 1600, 1800], "title": "Depth (m)", "labelFontSize": 17, "titleFontSize": 17, "tickSize": -5, "labelPadding": 12, "titlePadding": 14, "domain": false}},
            "color": {"field": "p", "type": "nominal", "scale": {"range": ["#0072BD", "#D95319", "#EDB120", "#7E2F8E", "#77AC30", "#4DBEEE", "#A2142F"]}, "legend": null},
            "order": {"field": "d", "type": "quantitative"}
          }
        },
        {
          "mark": {"type": "line", "opacity": 0},
          "encoding": {
            "x": {"field": "v", "type": "quantitative", "axis": {"orient": "top", "values": [1480, 1500, 1520, 1540, 1560], "labels": false, "title": null, "tickSize": -5, "domain": false}},
            "y": {"field": "d", "type": "quantitative", "axis": {"orient": "right", "values": [0, 200, 400, 600, 800, 1000, 1200, 1400, 1600, 1800], "labels": false, "title": null, "tickSize": -5, "domain": false}},
            "detail": {"field": "p", "type": "nominal"},
            "order": {"field": "d", "type": "quantitative"}
          }
        }
      ],
      "resolve": {"axis": {"x": "independent", "y": "independent"}}
    },
    {
      "width": 400,
      "height": 586,
      "title": {"text": "Average Sound Speeds", "fontSize": 20, "offset": -45, "frame": "group"},
      "data": {"name": "avg"},
      "view": {"stroke": null},
      "encoding": {
        "x": {"field": "v", "type": "quantitative", "scale": {"domain": [1480, 1540], "nice": false, "zero": false},
              "axis": {"values": [1480, 1500, 1520, 1540], "title": "Sound Speed (m/s)", "labelFontSize": 20, "titleFontSize": 20, "tickSize": -5, "labelPadding": 18, "titlePadding": 10}},
        "y": {"field": "d", "type": "quantitative", "scale": {"domain": [0, 5000], "range": [55, 586], "nice": false, "zero": false},
              "axis": {"values": [0, 500, 1000, 1500, 2000, 2500, 3000, 3500, 4000, 4500, 5000], "title": "Depth (m)", "labelFontSize": 20, "titleFontSize": 20, "tickSize": -5, "labelPadding": 13, "titlePadding": 5}},
        "order": {"field": "d", "type": "quantitative"}
      },
      "layer": [
        {
          "mark": {"type": "point", "filled": false, "size": 30, "strokeWidth": 1},
          "encoding": {
            "color": {"field": "s", "type": "nominal",
                      "scale": {"domain": ["Warm", "Warm SSP", "Cold", "Cold SSP", "Average", "Average SSP"], "range": ["#ff8080", "#ff0000", "#8080ff", "#0000ff", "#808080", "#000000"]},
                      "legend": {"orient": "none", "legendX": 288, "legendY": 144, "title": null, "strokeColor": "#8a8a8a", "fillColor": "white", "padding": 4, "labelFontSize": 19, "labelColor": "#262626", "symbolSize": 36, "symbolStrokeWidth": 1.5, "symbolOffset": 7, "labelOffset": 8, "rowPadding": 7,
                                 "labelExpr": "indexof(datum.label, 'SSP') >= 0 ? 'SSP' : datum.label"}},
            "shape": {"field": "s", "type": "nominal",
                      "scale": {"domain": ["Warm", "Warm SSP", "Cold", "Cold SSP", "Average", "Average SSP"], "range": ["circle", "M-5.3,0H5.3", "circle", "M-5.3,0H5.3", "circle", "M-5.3,0H5.3"]},
                      "legend": {"orient": "none", "legendX": 288, "legendY": 144, "title": null, "strokeColor": "#8a8a8a", "fillColor": "white", "padding": 4, "labelFontSize": 19, "labelColor": "#262626", "symbolSize": 36, "symbolStrokeWidth": 1.5, "symbolOffset": 7, "labelOffset": 8, "rowPadding": 7,
                                 "labelExpr": "indexof(datum.label, 'SSP') >= 0 ? 'SSP' : datum.label"}}
          }
        },
        {
          "transform": [{"calculate": "datum.s + ' SSP'", "as": "k"}],
          "mark": {"type": "line", "strokeWidth": 2},
          "encoding": {
            "color": {"field": "k", "type": "nominal"}
          }
        }
      ]
    }
  ],
  "spacing": 78,
  "resolve": {"scale": {"color": "independent", "x": "independent", "y": "independent", "shape": "independent"}, "legend": {"color": "independent", "shape": "independent"}}
}
